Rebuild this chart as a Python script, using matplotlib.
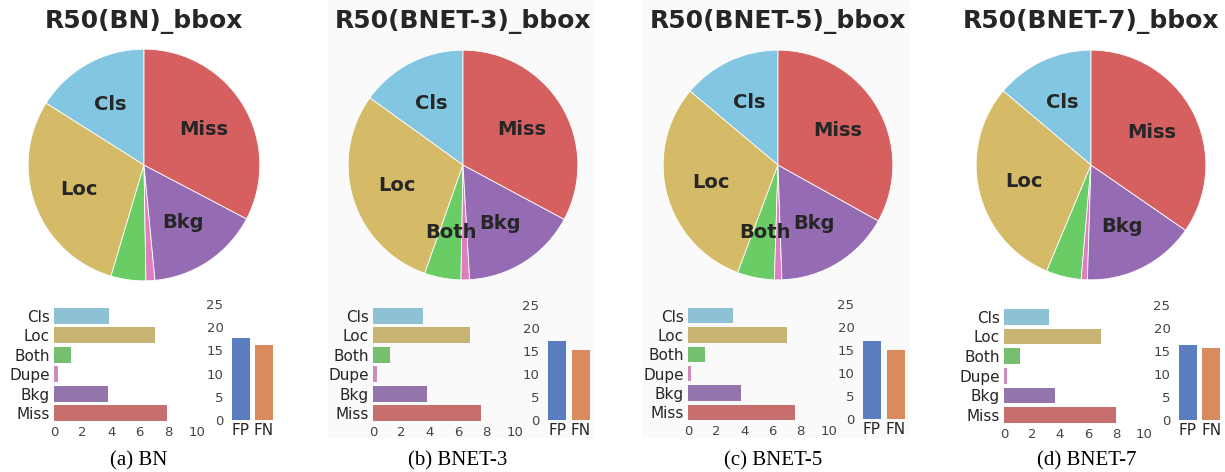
import colorsys
import matplotlib
matplotlib.use("Agg")
import matplotlib.pyplot as plt
import matplotlib.colors as mcolors
from matplotlib.patches import Rectangle

W, H = 1225, 472

error_types = ["Cls", "Loc", "Both", "Dupe", "Bkg", "Miss"]
models = ["BN", "BNET-3", "BNET-5", "BNET-7"]
captions = ["(a) BN", "(b) BNET-3", "(c) BNET-5", "(d) BNET-7"]

bn = [3.86, 7.07, 1.17, 0.30, 3.80, 7.87]
bnet3 = [3.50, 6.86, 1.19, 0.28, 3.77, 7.63]
bnet5 = [3.20, 7.00, 1.20, 0.24, 3.77, 7.62]
bnet7 = [3.20, 6.90, 1.14, 0.20, 3.67, 8.00]
errors = [bn, bnet3, bnet5, bnet7]

fp_fn_labels = ["FP", "FN"]
fp = [17.6, 17.2, 17.0, 16.3]
fn = [16.1, 15.2, 15.0, 15.65]

# which pie slices carry a label in each panel
shown = [["Cls", "Loc", "Bkg", "Miss"],
         ["Cls", "Loc", "Both", "Bkg", "Miss"],
         ["Cls", "Loc", "Both", "Bkg", "Miss"],
         ["Cls", "Loc", "Bkg", "Miss"]]

pie_colors = ["#82C6E2", "#D5BB67", "#6ACC64", "#DC7EC0", "#956CB4", "#D65F5F"]
fpfn_colors = ["#4878D0", "#EE854A"]


def desat(c, prop=0.75):
    r, g, b = mcolors.to_rgb(c)
    h, l, s = colorsys.rgb_to_hls(r, g, b)
    return colorsys.hls_to_rgb(h, l, s * prop)


def px(x, y, w, h):
    return [x / W, 1 - (y + h) / H, w / W, h / H]


# layout in pixels (per panel)
pie_geo = [(144, 165, 117), (463, 165, 116), (778, 165, 116), (1091, 165, 116)]
hbar_x = [(54, 197), (373, 515), (688, 829), (1004, 1144)]
hbar_y = [(306, 423), (306, 423), (306, 422), (307, 425)]
fpfn_geo = [(229, 275.5, 304, 420), (545, 593, 305, 420),
            (860, 908, 304, 419), (1176, 1223, 305, 420)]
cap_x = [139, 458, 773, 1087]

fig = plt.figure(figsize=(W / 100, H / 100), dpi=100)

# faint grey backdrop of the two middle screenshots
for x0, x1 in [(328, 593), (643, 908)]:
    fig.patches.append(Rectangle((x0 / W, 1 - 437 / H), (x1 - x0) / W, 437 / H,
                                 transform=fig.transFigure, color="#fafafa", zorder=-10))

for i, m in enumerate(models):
    cx, cy, r = pie_geo[i]
    ax = fig.add_axes(px(cx - r, cy - r, 2 * r, 2 * r))
    labels = [e if e in shown[i] else "" for e in error_types]
    ax.pie(errors[i], labels=labels, colors=pie_colors, startangle=90,
           counterclock=True, labeldistance=0.6, radius=1,
           wedgeprops=dict(edgecolor="white", linewidth=0.6),
           textprops=dict(fontsize=14, fontweight="bold", color="#262626",
                          ha="center", va="center"))
    ax.set_xlim(-1.01, 1.01)
    ax.set_ylim(-1.01, 1.01)
    ax.set_aspect("equal")
    fig.text(cx / W, 1 - 21 / H, "R50(%s)_bbox" % m, ha="center", va="center",
             fontsize=18, fontweight="bold", color="#262626")

    # horizontal error bars
    x0, x1 = hbar_x[i]
    y0, y1 = hbar_y[i]
    ax = fig.add_axes(px(x0, y0, x1 - x0, y1 - y0))
    ax.barh(range(6), errors[i], height=0.8, color=[desat(c) for c in pie_colors])
    ax.set_xlim(0, 10)
    ax.set_ylim(5.5, -0.5)
    ax.set_yticks(range(6))
    ax.set_yticklabels(error_types, fontsize=11, color="#262626")
    ax.set_xticks([0, 2, 4, 6, 8, 10])
    ax.tick_params(axis="x", length=0, pad=2, labelsize=9.5, labelcolor="#444444")
    ax.tick_params(axis="y", length=0, pad=3)
    for s in ax.spines.values():
        s.set_visible(False)
    ax.patch.set_alpha(0)

    # FP / FN bars
    fx0, fx1, fy0, fy1 = fpfn_geo[i]
    ax = fig.add_axes(px(fx0, fy0, fx1 - fx0, fy1 - fy0))
    ax.bar(range(2), [fp[i], fn[i]], width=0.78, color=[desat(c) for c in fpfn_colors])
    ax.set_xlim(-0.5, 1.5)
    ax.set_ylim(0, 25)
    ax.set_xticks(range(2))
    ax.set_xticklabels(fp_fn_labels, fontsize=11, color="#262626")
    ax.set_yticks([0, 5, 10, 15, 20, 25])
    ax.tick_params(axis="y", length=0, pad=4, labelsize=9.5, labelcolor="#444444")
    ax.tick_params(axis="x", length=0, pad=2)
    for s in ax.spines.values():
        s.set_visible(False)
    ax.patch.set_alpha(0)

    fig.text(cap_x[i] / W, 1 - 461 / H, captions[i], ha="center", va="center",
             fontsize=15, family="Liberation Serif", color="black")

fig.savefig("out.png", dpi=100)
